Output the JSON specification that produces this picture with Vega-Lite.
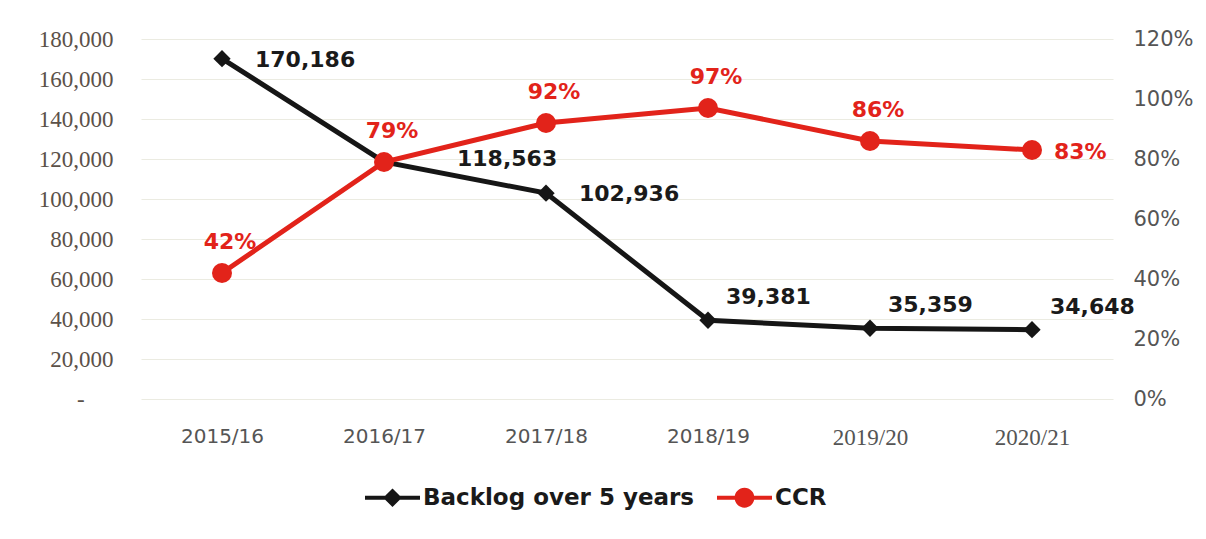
{
  "$schema": "https://vega.github.io/schema/vega-lite/v6.json",
  "width": 972,
  "height": 360,
  "autosize": "none",
  "padding": {"left": 141, "top": 39, "right": 93, "bottom": 140},
  "background": "white",
  "config": {"view": {"stroke": null}, "axis": {"domain": false, "ticks": false}},
  "data": {"values": [
    {"year": "2015/16", "series": "Backlog over 5 years", "value": 170186},
    {"year": "2016/17", "series": "Backlog over 5 years", "value": 118563},
    {"year": "2017/18", "series": "Backlog over 5 years", "value": 102936},
    {"year": "2018/19", "series": "Backlog over 5 years", "value": 39381},
    {"year": "2019/20", "series": "Backlog over 5 years", "value": 35359},
    {"year": "2020/21", "series": "Backlog over 5 years", "value": 34648},
    {"year": "2015/16", "series": "CCR", "value": 0.42},
    {"year": "2016/17", "series": "CCR", "value": 0.79},
    {"year": "2017/18", "series": "CCR", "value": 0.92},
    {"year": "2018/19", "series": "CCR", "value": 0.97},
    {"year": "2019/20", "series": "CCR", "value": 0.86},
    {"year": "2020/21", "series": "CCR", "value": 0.83}
  ]},
  "encoding": {
    "x": {
      "field": "year", "type": "ordinal", "sort": null,
      "scale": {"type": "point", "padding": 0.5},
      "axis": {
        "title": null, "labelAngle": 0, "grid": false,
        "labelFont": {"condition": {"test": "datum.label === '2019/20' || datum.label === '2020/21'", "value": "Liberation Serif"}, "value": "DejaVu Sans"},
        "labelFontSize": {"condition": {"test": "datum.label === '2019/20' || datum.label === '2020/21'", "value": 23}, "value": 20},
        "labelColor": "#555555", "labelPadding": 27
      }
    }
  },
  "layer": [
    {
      "transform": [{"filter": "datum.series === 'Backlog over 5 years'"}],
      "encoding": {
        "y": {
          "field": "value", "type": "quantitative",
          "scale": {"domain": [0, 180000]},
          "axis": {
            "title": null, "orient": "left",
            "values": [0, 20000, 40000, 60000, 80000, 100000, 120000, 140000, 160000, 180000],
            "labelExpr": "datum.value === 0 ? '-\u00a0\u00a0\u00a0\u00a0\u00a0\u200b' : format(datum.value, ',')",
            "labelFont": "Liberation Serif", "labelFontSize": 23, "labelColor": "#5b5149",
            "labelPadding": 28, "grid": true, "gridColor": "#ebebe1", "gridWidth": 1.2
          }
        }
      },
      "layer": [
        {"mark": {"type": "line", "color": "#161616", "strokeWidth": 5}},
        {
          "mark": {"type": "point", "filled": true, "opacity": 1, "size": 300, "shape": "diamond"},
          "encoding": {
            "color": {
              "field": "series", "type": "nominal",
              "scale": {"domain": ["Backlog over 5 years", "CCR"], "range": ["#161616", "#e2231a"]},
              "legend": {
                "title": null, "orient": "none", "legendX": 224, "legendY": 431,
                "direction": "horizontal",
                "labelFont": "DejaVu Sans", "labelFontWeight": "bold", "labelFontSize": 23,
                "labelColor": "#1a1a1a", "labelOffset": 3, "labelLimit": 400,
                "columnPadding": 22, "symbolSize": 3025, "symbolStrokeWidth": 0, "symbolOpacity": 1,
                "encode": {"symbols": {"update": {"shape": {"signal": "datum.value === 'CCR' ? 'M-1,-0.07L1,-0.07L1,0.07L-1,0.07Z M-0.36,0A0.36,0.36 0 1,1 0.36,0A0.36,0.36 0 1,1 -0.36,0Z' : 'M-1,-0.07L1,-0.07L1,0.07L-1,0.07Z M-0.34,0L0,-0.34L0.34,0L0,0.34Z'"}}}}
              }
            }
          }
        },
        {
          "transform": [{"filter": "datum.year === '2015/16' || datum.year === '2017/18'"}],
          "mark": {"type": "text", "align": "left", "baseline": "middle", "dx": 33, "dy": 1, "font": "DejaVu Sans", "fontWeight": "bold", "fontSize": 22, "color": "#1a1a1a"},
          "encoding": {"text": {"field": "value", "type": "quantitative", "format": ","}}
        },
        {
          "transform": [{"filter": "datum.year === '2016/17'"}],
          "mark": {"type": "text", "align": "left", "baseline": "middle", "dx": 73, "dy": -3, "font": "DejaVu Sans", "fontWeight": "bold", "fontSize": 22, "color": "#1a1a1a"},
          "encoding": {"text": {"field": "value", "type": "quantitative", "format": ","}}
        },
        {
          "transform": [{"filter": "datum.year === '2018/19' || datum.year === '2019/20' || datum.year === '2020/21'"}],
          "mark": {"type": "text", "align": "left", "baseline": "middle", "dx": 18, "dy": -23, "font": "DejaVu Sans", "fontWeight": "bold", "fontSize": 22, "color": "#1a1a1a"},
          "encoding": {"text": {"field": "value", "type": "quantitative", "format": ","}}
        }
      ]
    },
    {
      "transform": [{"filter": "datum.series === 'CCR'"}],
      "encoding": {
        "y": {
          "field": "value", "type": "quantitative",
          "scale": {"domain": [0, 1.2]},
          "axis": {
            "title": null, "orient": "right",
            "values": [0, 0.2, 0.4, 0.6, 0.8, 1.0, 1.2], "format": ".0%",
            "labelFont": "DejaVu Sans", "labelFontSize": 21, "labelColor": "#555555",
            "labelPadding": 20, "grid": false
          }
        }
      },
      "layer": [
        {"mark": {"type": "line", "color": "#e2231a", "strokeWidth": 5}},
        {
          "mark": {"type": "point", "filled": true, "opacity": 1, "size": 400, "shape": "circle"},
          "encoding": {"color": {"field": "series", "type": "nominal"}}
        },
        {
          "transform": [{"filter": "datum.year !== '2020/21'"}],
          "mark": {"type": "text", "align": "center", "baseline": "middle", "dx": 8, "dy": -31, "font": "DejaVu Sans", "fontWeight": "bold", "fontSize": 22, "color": "#e2231a"},
          "encoding": {"text": {"field": "value", "type": "quantitative", "format": ".0%"}}
        },
        {
          "transform": [{"filter": "datum.year === '2020/21'"}],
          "mark": {"type": "text", "align": "left", "baseline": "middle", "dx": 22, "dy": 2, "font": "DejaVu Sans", "fontWeight": "bold", "fontSize": 22, "color": "#e2231a"},
          "encoding": {"text": {"field": "value", "type": "quantitative", "format": ".0%"}}
        }
      ]
    }
  ],
  "resolve": {"scale": {"y": "independent"}}
}
